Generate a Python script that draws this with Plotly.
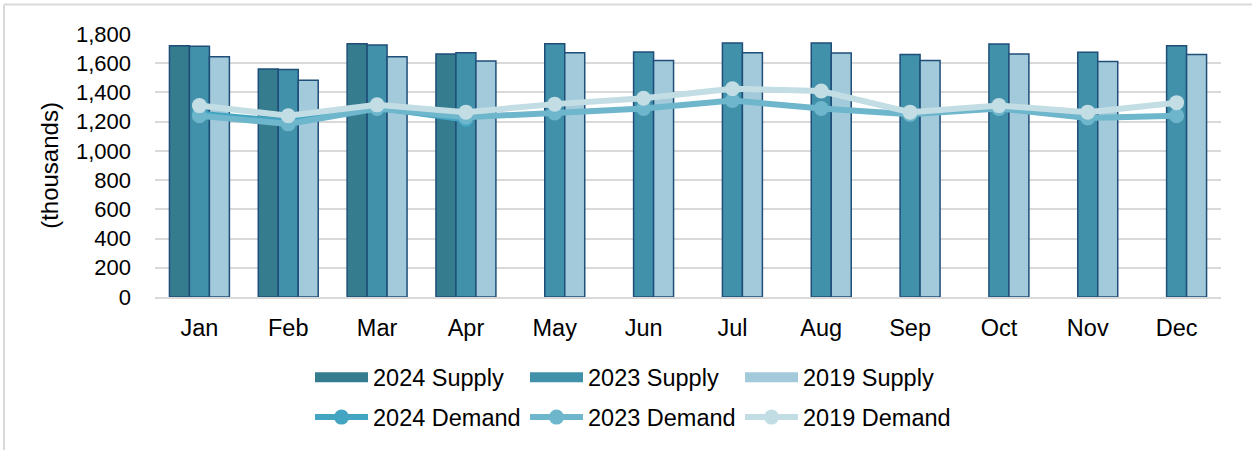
import plotly.graph_objects as go

months = ["Jan", "Feb", "Mar", "Apr", "May", "Jun", "Jul", "Aug", "Sep", "Oct", "Nov", "Dec"]

supply_2024 = [1720, 1561, 1734, 1663, None, None, None, None, None, None, None, None]
supply_2023 = [1716, 1557, 1725, 1672, 1734, 1677, 1739, 1739, 1659, 1732, 1675, 1720]
supply_2019 = [1645, 1484, 1645, 1616, 1672, 1618, 1672, 1670, 1618, 1663, 1611, 1659]

demand_2024 = [1255, 1200, 1295, 1215, None, None, None, None, None, None, None, None]
demand_2023 = [1240, 1185, 1290, 1230, 1260, 1290, 1345, 1290, 1250, 1290, 1225, 1240]
demand_2019 = [1310, 1240, 1315, 1265, 1320, 1360, 1425, 1410, 1265, 1310, 1265, 1330]

W, H = 1252, 450
L, R, T, B = 155, 31, 33.5, 152.7
pw, ph = W - L - R, H - T - B

def px_to_paper_x(px):
    return (px - L) / pw

def px_to_paper_y(py):
    return (H - B - py) / ph

edge = "#1F4E79"
fig = go.Figure()
supply_series = [("2024 Supply", supply_2024, "#357C8F"),
                 ("2023 Supply", supply_2023, "#4291AB"),
                 ("2019 Supply", supply_2019, "#A3CADA")]
for name, vals, col in supply_series:
    fig.add_trace(go.Bar(x=months, y=vals, name=name, legendgroup=name, showlegend=False,
                         marker=dict(color=col, line=dict(color=edge, width=1.5))))
# legend entries for the bars (wide rectangular swatches)
for name, vals, col in supply_series:
    fig.add_trace(go.Scatter(x=[None], y=[None], name=name, legendgroup=name, mode="lines",
                             line=dict(color=col, width=13), hoverinfo="skip", legend="legend"))

for name, vals, col in [("2024 Demand", demand_2024, "#44A5C2"),
                        ("2023 Demand", demand_2023, "#6DB6CC"),
                        ("2019 Demand", demand_2019, "#C3DDE5")]:
    fig.add_trace(go.Scatter(x=months, y=vals, name=name, mode="lines+markers",
                             line=dict(color=col, width=6), marker=dict(color=col, size=15),
                             connectgaps=False, legend="legend2"))

font = dict(family="Liberation Sans, Arial, sans-serif", color="#000000")

fig.update_layout(
    width=W, height=H,
    margin=dict(l=L, r=R, t=T, b=B, pad=0, autoexpand=False),
    paper_bgcolor="white", plot_bgcolor="white",
    barmode="group", bargap=0.325, bargroupgap=0,
    font=dict(**font, size=22),
    xaxis=dict(type="category", range=[-0.5, 11.5], showgrid=False, showline=True, linecolor="#D9D9D9",
               linewidth=2, automargin=False, ticks="", ticklabelstandoff=9, tickfont=dict(size=23.5)),
    yaxis=dict(range=[0, 1800], dtick=200, tickformat=",", showgrid=True, gridcolor="#D9D9D9",
               gridwidth=1.5, zeroline=False, ticks="", ticklabelstandoff=23, automargin=False,
               tickfont=dict(size=22),
               title=dict(text="(thousands)", font=dict(size=24), standoff=10)),
    legend=dict(orientation="h", x=px_to_paper_x(310), xanchor="left", y=px_to_paper_y(378), yanchor="middle",
                font=dict(size=23.5), entrywidth=147, itemwidth=53, traceorder="normal",
                bgcolor="rgba(0,0,0,0)"),
    legend2=dict(orientation="h", x=px_to_paper_x(310), xanchor="left", y=px_to_paper_y(418), yanchor="middle",
                 font=dict(size=23.5), entrywidth=147, itemwidth=53, traceorder="normal",
                 bgcolor="rgba(0,0,0,0)"),
    shapes=[
        dict(type="line", xref="paper", yref="paper", x0=px_to_paper_x(4), x1=px_to_paper_x(1260),
             y0=px_to_paper_y(4), y1=px_to_paper_y(4), line=dict(color="#D9D9D9", width=2)),
        dict(type="line", xref="paper", yref="paper", x0=px_to_paper_x(4), x1=px_to_paper_x(4),
             y0=px_to_paper_y(4), y1=px_to_paper_y(460), line=dict(color="#D9D9D9", width=2)),
    ],
)

fig.write_html("out.html", config={"displayModeBar": False},
               post_script="document.body.style.margin='0';document.body.style.padding='0';")
